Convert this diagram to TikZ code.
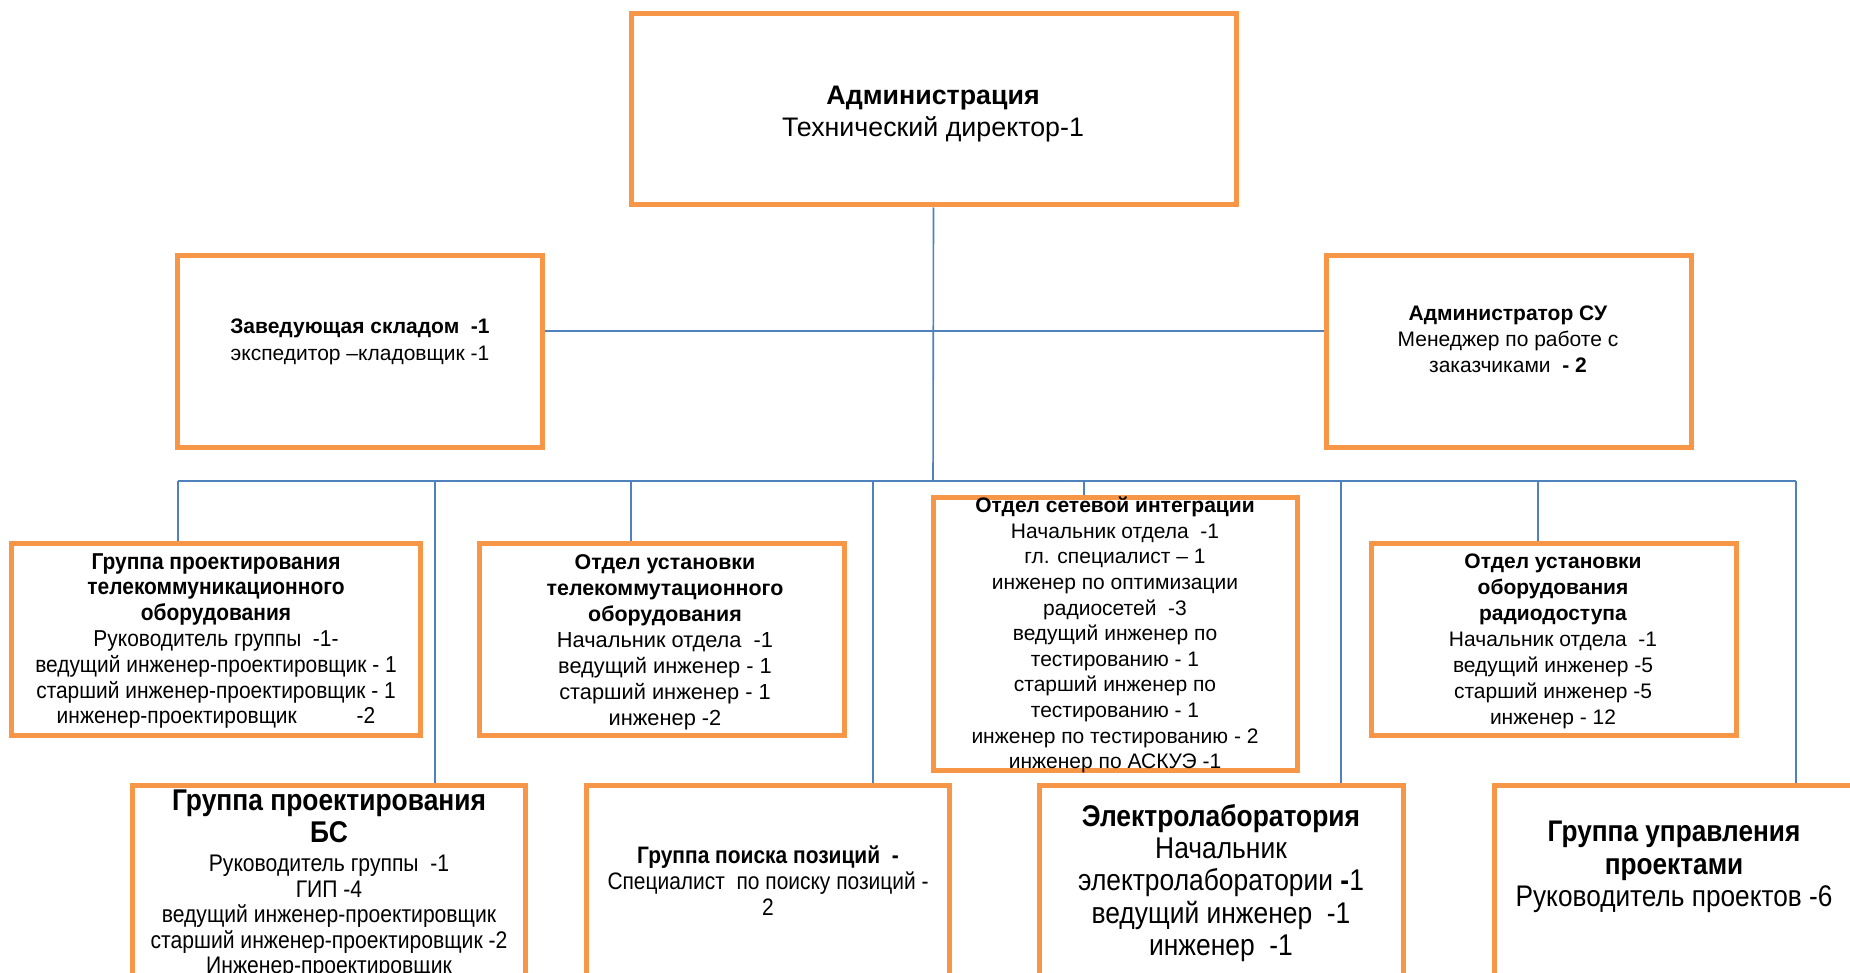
\documentclass[tikz,border=0pt]{standalone}
\usepackage{fontspec}
\setmainfont{Liberation Sans}
\newfontfamily\nf[FakeStretch=0.88]{Liberation Sans}
\newfontfamily\mf[FakeStretch=0.91]{Liberation Sans}
\usetikzlibrary{fit,backgrounds}
\definecolor{orgB}{HTML}{F79646}
\definecolor{lnB}{HTML}{4F81BD}
\tikzset{
 box/.style={draw=orgB, line width=2.5pt, inner sep=0pt},
 conn/.style={draw=lnB, line width=0.8pt},
 txt/.style={align=center, inner sep=0pt, text=black},
}
\begin{document}
\begin{tikzpicture}[x=0.5pt,y=-0.5pt]
\clip (0,0) rectangle (1850,973);
% boxes
\node[box, fit={(631,14) (1236,205)}] (adm) {};
\node[box, fit={(177,255) (542,447)}] (zav) {};
\node[box, fit={(1326,255) (1691,447)}] (asu) {};
\node[box, fit={(11,543) (420,735)}] (g1) {};
\node[box, fit={(479,543) (844,735)}] (g2) {};
\node[box, fit={(933,497) (1297,770)}] (g3) {};
\node[box, fit={(1371,543) (1736,735)}] (g4) {};
\node[box, fit={(132,785) (525,1010)}] (h1) {};
\node[box, fit={(586,785) (949,1010)}] (h2) {};
\node[box, fit={(1039,785) (1403,1010)}] (h3) {};
\node[box, fit={(1494,785) (1856,1010)}] (h4) {};
% connectors
\begin{scope}[on background layer]
\fill[white] (0,0) rectangle (1850,973);
\coordinate (bus) at (933,481);
\coordinate (hz) at (933,331);
\coordinate (dA) at (178,481);
\coordinate (dB) at (435,481);
\coordinate (dC) at (631,481);
\coordinate (dD) at (873,481);
\coordinate (dE) at (1084,481);
\coordinate (dF) at (1341,481);
\coordinate (dG) at (1538,481);
\coordinate (dH) at (1796,481);
\draw[conn] (adm.south) -- (bus);
\draw[conn] (zav.east |- hz) -- (asu.west |- hz);
\draw[conn] (dA) -- (dH);
\draw[conn] (dA) -- (g1.north -| dA);
\draw[conn] (dB) -- (h1.north -| dB);
\draw[conn] (dC) -- (g2.north -| dC);
\draw[conn] (dD) -- (h2.north -| dD);
\draw[conn] (dE) -- (g3.north -| dE);
\draw[conn] (dF) -- (h3.north -| dF);
\draw[conn] (dG) -- (g4.north -| dG);
\draw[conn] (dH) -- (h4.north -| dH);
\end{scope}
% texts
\node[txt, font=\fontsize{13.4}{16}\selectfont] (admT) at (933,114)
 {\textbf{Администрация}\\Технический директор-1};
\node[txt, font=\fontsize{10.5}{13.5}\selectfont] (zavT) at (360,342)
 {\textbf{Заведующая складом\ \ -1}\\экспедитор –кладовщик -1};
\node[txt, font=\fontsize{10.5}{13}\selectfont] (asuT) at (1508,339)
 {\textbf{Администратор СУ}\\Менеджер по работе с\\заказчиками\ \ \textbf{- 2}};
\node[txt, font=\mf\fontsize{11.5}{12.9}\selectfont] (g1T) at (216,641)
 {\textbf{Группа проектирования}\\\textbf{телекоммуникационного}\\\textbf{оборудования}\\
 Руководитель группы\ \ -1-\\ведущий инженер-проектировщик - 1\\старший инженер-проектировщик - 1\\
 инженер-проектировщик\hspace{2.6em}-2};
\node[txt, font=\fontsize{10.9}{13}\selectfont] (g2T) at (665,642)
 {\textbf{\fontsize{10.7}{13}\selectfont Отдел установки}\\\textbf{\fontsize{10.7}{13}\selectfont телекоммутационного}\\\textbf{\fontsize{10.7}{13}\selectfont оборудования}\\
 Начальник отдела\ \ -1\\ведущий инженер - 1\\старший инженер - 1\\инженер -2};
\node[txt, font=\fontsize{10.5}{12.8}\selectfont] (g3T) at (1115,635)
 {\textbf{Отдел сетевой интеграции}\\Начальник отдела\ \ -1\\гл. специалист – 1\\
 инженер по оптимизации\\радиосетей\ \ -3\\ведущий инженер по\\тестированию - 1\\
 старший инженер по\\тестированию - 1\\инженер по тестированию - 2\\инженер по АСКУЭ -1};
\node[txt, font=\fontsize{10.5}{13}\selectfont] (g4T) at (1553,641)
 {\textbf{Отдел установки}\\\textbf{оборудования}\\\textbf{радиодоступа}\\
 Начальник отдела\ \ -1\\ведущий инженер -5\\старший инженер -5\\инженер - 12};
\node[txt, anchor=north, font=\nf\bfseries\fontsize{15}{16.2}\selectfont] (h1T) at (329,789)
 {Группа проектирования\\БС};
\node[txt, anchor=north, font=\nf\fontsize{12}{12.7}\selectfont] (h1B) at (329,855)
 {Руководитель группы\ \ -1\\ГИП -4\\ведущий инженер-проектировщик\\
 старший инженер-проектировщик -2\\Инженер-проектировщик};
\node[txt, font=\nf\fontsize{11.9}{13}\selectfont] (h2T) at (768,881)
 {\textbf{Группа поиска позиций\ \ -}\\Специалист\ \ по поиску позиций -\\2};
\node[txt, font=\nf\fontsize{15}{16.2}\selectfont] (h3T) at (1221,883)
 {\textbf{Электролаборатория}\\Начальник\\электролаборатории \textbf{-}1\\ведущий инженер\ \ -1\\инженер\ \ -1};
\node[txt, font=\nf\fontsize{14.9}{16.2}\selectfont] (h4T) at (1674,867)
 {\textbf{Группа управления}\\\textbf{проектами}\\Руководитель проектов -6};
\end{tikzpicture}
\end{document}
